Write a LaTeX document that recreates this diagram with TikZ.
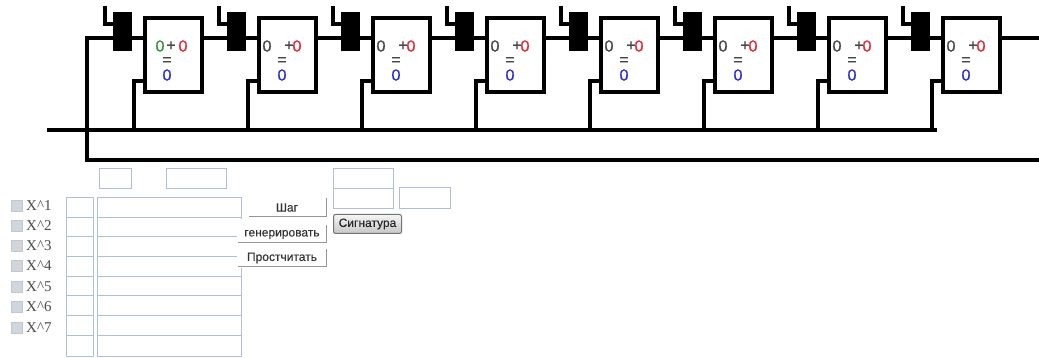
\documentclass[tikz,border=0pt]{standalone}
\usepackage{fontspec}
\setmainfont{Liberation Sans}
\newfontfamily\serifx{Liberation Serif}
\newfontfamily\digitf[FakeBold=0.5]{Liberation Sans}
\newfontfamily\btnf[FakeBold=0.2]{Liberation Sans}
\definecolor{fieldc}{RGB}{176,192,212}
\definecolor{grn}{RGB}{50,145,60}
\definecolor{rd}{RGB}{225,40,55}
\definecolor{bl}{RGB}{45,45,210}
\definecolor{gry}{RGB}{70,70,70}
\definecolor{btnshadow}{RGB}{150,150,150}
\definecolor{chkc}{RGB}{208,214,222}
\begin{document}
\begin{tikzpicture}[x=1pt,y=-1pt,
  wire/.style={line width=4pt,black},
  adder/.style={draw=black,line width=4pt,fill=white,minimum width=57pt,minimum height=74pt,inner sep=0pt,outer sep=0pt,anchor=north west},
  latch/.style={fill=black,minimum width=19pt,minimum height=39pt,inner sep=0pt,outer sep=0pt,anchor=north west},
  digit/.style={font=\digitf\fontsize{16}{16}\selectfont,inner sep=0pt},
  field/.style={draw=fieldc,line width=1pt,fill=white,inner sep=0pt,outer sep=0pt,anchor=north west},
  lbl/.style={font=\serifx\fontsize{15}{16}\selectfont,text=black!70,inner sep=0pt,anchor=west},
  chk/.style={draw=black!22,fill=chkc,line width=.7pt,minimum size=11pt,inner sep=0pt},
  btnlabel/.style={font=\btnf\fontsize{12}{12}\selectfont,text=black!80,inner sep=0pt}]
\useasboundingbox (0,0) rectangle (1039,358);
\fill[white] (0,0) rectangle (1039,358);
% registers and adders
\coordinate (start) at (87,38);
\coordinate (startb) at (87,160);
\coordinate (endb) at (1039,160);
\coordinate (endt) at (1039,38);
\coordinate (busl) at (47,130.5);
\coordinate (busr) at (937,130.5);
\foreach \i [evaluate=\i as \xx using {(\i-1)*114}] in {1,...,8}{
  \node[latch] (L\i) at (\xx+113,12) {};
  \node[adder] (A\i) at (\xx+145,18) {};
  \coordinate (S\i) at (\xx+105,6);
  \coordinate (F\i) at (\xx+134,130.5);
  \coordinate (G\i) at (\xx+134,81);
  \draw[wire] (S\i) -- (\xx+105,24) -- (\xx+113,24);
  \draw[wire] (F\i) -- (G\i) -- (G\i -| A\i.west);
  \draw[wire] (L\i.east |- start) -- (A\i.west |- start);
}
\draw[wire,line cap=rect] (startb) -- (start) -- (L1.west |- start);
\draw[wire] (startb) -- (endb);
\draw[wire] (busl) -- (busr);
\foreach \i [remember=\i as \p (initially 1)] in {2,...,8}{
  \draw[wire] (A\p.east |- start) -- (L\i.west |- start);
}
\draw[wire] (A8.east |- start) -- (endt);
% digits
\node[digit,text=grn] (a1) at (160,46) {0};
\node[digit,text=gry] (p1) at (171,46) {+};
\node[digit,text=rd] (b1) at (183,46) {0};
\node[digit,text=gry] (e1) at (167,61) {=};
\node[digit,text=bl] (c1) at (167,75) {0};
\foreach \i [evaluate=\i as \xx using {(\i-2)*114}] in {2,...,8}{
  \node[digit,text=gry] (a\i) at (\xx+267,46) {0};
  \node[digit,text=gry] (p\i) at (\xx+289,46) {+};
  \node[digit,text=rd] (b\i) at (\xx+297,46) {0};
  \node[digit,text=gry] (e\i) at (\xx+282,61) {=};
  \node[digit,text=bl] (c\i) at (\xx+282,75) {0};
}
% top fields
\node[field,minimum width=32pt,minimum height=20pt] (f1) at (99,169) {};
\node[field,minimum width=60pt,minimum height=20pt] (f2) at (166,169) {};
\node[field,minimum width=60pt,minimum height=20pt] (f3) at (333,169) {};
\node[field,minimum width=60pt,minimum height=20pt] (f4) at (333,189) {};
\node[field,minimum width=51pt,minimum height=21pt] (f5) at (399,188) {};
% table
\foreach \i/\y/\h in {1/198/20,2/218/19,3/237/20,4/257/19,5/276/19,6/295/20,7/315/20,8/335/21}{
  \node[field,minimum width=27pt,minimum height=\h pt] (t\i) at (66,\y) {};
  \node[field,minimum width=144pt,minimum height=\h pt] (u\i) at (97,\y) {};
}
% checkboxes
\foreach \i/\y in {1/205.5,2/225.5,3/246,4/266,5/287,6/307,7/328}{
  \node[chk] (k\i) at (17,\y) {};
  \node[lbl] (x\i) at (26,\y) {X\^{}\i};
}
% buttons
\fill[white] (244,198) rectangle (328,218);
\fill[white] (237,219) rectangle (328,268);
\draw[btnshadow,line width=1.5pt] (249,216.5) -- (326.5,216.5) -- (326.5,198);
\draw[btnshadow,line width=1.5pt] (238,242.5) -- (326.5,242.5) -- (326.5,225);
\draw[btnshadow,line width=1.5pt] (238,266.5) -- (326.5,266.5) -- (326.5,249);
\node[btnlabel] (b-step) at (287,207.5) {Шаг};
\node[btnlabel] (b-gen) at (282,234.5) {генерировать};
\node[btnlabel] (b-calc) at (282,258) {Простчитать};
\node[draw=black!55,line width=1pt,rounded corners=2pt,top color=black!4,bottom color=black!22,minimum width=68pt,minimum height=19pt,inner sep=0pt,font=\btnf\fontsize{12}{12}\selectfont,text=black!85] (b-sig) at (367.5,224) {Сигнатура};
\end{tikzpicture}
\end{document}
